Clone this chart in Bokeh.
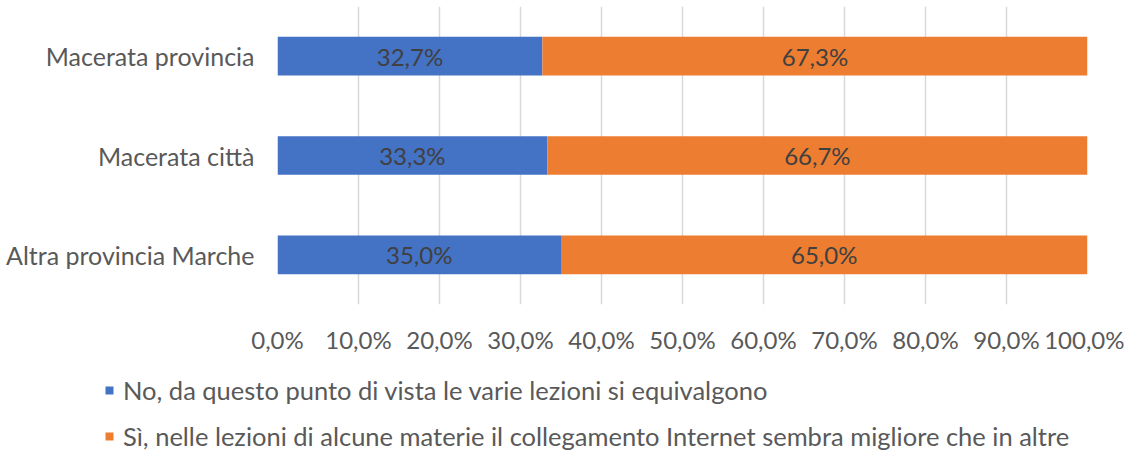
from bokeh.plotting import figure
from bokeh.layouts import column
from bokeh.models import (FactorRange, Range1d, Legend, LegendItem,
                          CustomJSTickFormatter, FixedTicker, ColumnDataSource)
from bokeh.core.properties import value
from bokeh.embed import file_html
from bokeh.resources import INLINE

# ---- data ----
categories = ["Altra provincia Marche", "Macerata città", "Macerata provincia"]
no_values = [35.0, 33.3, 32.7]
si_values = [65.0, 66.7, 67.3]
series_names = [
    "No, da questo punto di vista le varie lezioni si equivalgono",
    "Sì, nelle lezioni di alcune materie il collegamento Internet sembra migliore che in altre",
]
x_ticks = [0, 10, 20, 30, 40, 50, 60, 70, 80, 90, 100]

BLUE = "#4472C4"
ORANGE = "#ED7D31"
FONT = "Lato"
W = 1124
H_TOP = 356
H_LEG = 451 - H_TOP

def fmt(v):
    return f"{v:.1f}%".replace(".", ",")

src = ColumnDataSource(dict(
    cat=categories,
    no_end=no_values,
    si_end=[a + b for a, b in zip(no_values, si_values)],
    no_mid=[a / 2 for a in no_values],
    si_mid=[a + b / 2 for a, b in zip(no_values, si_values)],
    no_lbl=[fmt(v) for v in no_values],
    si_lbl=[fmt(v) for v in si_values],
    zero=[0] * len(categories),
))

p = figure(width=W, height=H_TOP, output_backend="svg", toolbar_location=None,
           y_range=FactorRange(*categories), x_range=Range1d(0, 100),
           min_border_left=277, min_border_right=37, min_border_top=6,
           min_border_bottom=50, frame_align=False)
p.outline_line_color = None

p.hbar(y="cat", left="zero", right="no_end", height=0.39, source=src,
       fill_color=BLUE, line_color=None)
p.hbar(y="cat", left="no_end", right="si_end", height=0.39, source=src,
       fill_color=ORANGE, line_color=None)

for xcol, tcol in (("no_mid", "no_lbl"), ("si_mid", "si_lbl")):
    p.text(x=xcol, y="cat", text=tcol, source=src, text_align="center",
           text_baseline="middle", text_font=value(FONT),
           text_font_size="24px", text_color="#404040")

# axes
p.xaxis.ticker = FixedTicker(ticks=x_ticks)
p.xaxis.formatter = CustomJSTickFormatter(
    code="return tick.toFixed(1).replace('.', ',') + '%';")
p.xaxis.axis_line_color = None
p.xaxis.major_tick_line_color = None
p.xaxis.minor_tick_line_color = None
p.xaxis.major_label_standoff = 14
p.xaxis.major_label_text_font = FONT
p.xaxis.major_label_text_font_size = "24px"
p.xaxis.major_label_text_color = "#595959"

p.yaxis.axis_line_color = None
p.yaxis.major_tick_line_color = None
p.yaxis.minor_tick_line_color = None
p.yaxis.major_label_standoff = 17
p.yaxis.major_label_text_font = FONT
p.yaxis.major_label_text_font_size = "25px"
p.yaxis.major_label_text_color = "#595959"

p.xgrid.ticker = FixedTicker(ticks=x_ticks)
p.xgrid.grid_line_color = "#D9D9D9"
p.xgrid.grid_line_width = 1.5
p.ygrid.grid_line_color = None

# ---- legend strip below the chart ----
q = figure(width=W, height=H_LEG, output_backend="svg", toolbar_location=None,
           x_range=Range1d(0, W), y_range=Range1d(0, H_LEG),
           min_border=0, x_axis_type=None, y_axis_type=None, frame_align=False)
q.outline_line_color = None
q.xgrid.grid_line_color = None
q.ygrid.grid_line_color = None
lr_no = q.hbar(y=[-50], left=[0], right=[1], height=1,
               fill_color=BLUE, line_color=None)
lr_si = q.hbar(y=[-50], left=[0], right=[1], height=1,
               fill_color=ORANGE, line_color=None)

legend = Legend(items=[LegendItem(label=series_names[0], renderers=[lr_no]),
                       LegendItem(label=series_names[1], renderers=[lr_si])],
                location=(104, 0), orientation="vertical",
                glyph_width=10, glyph_height=10, label_standoff=9,
                label_height=26, spacing=16, padding=0, margin=0,
                border_line_color=None, background_fill_alpha=0,
                label_text_font=FONT, label_text_font_size="25.5px",
                label_text_color="#595959")
q.add_layout(legend, "center")

layout = column(p, q, spacing=0)
open("out.html", "w").write(file_html(layout, INLINE))
